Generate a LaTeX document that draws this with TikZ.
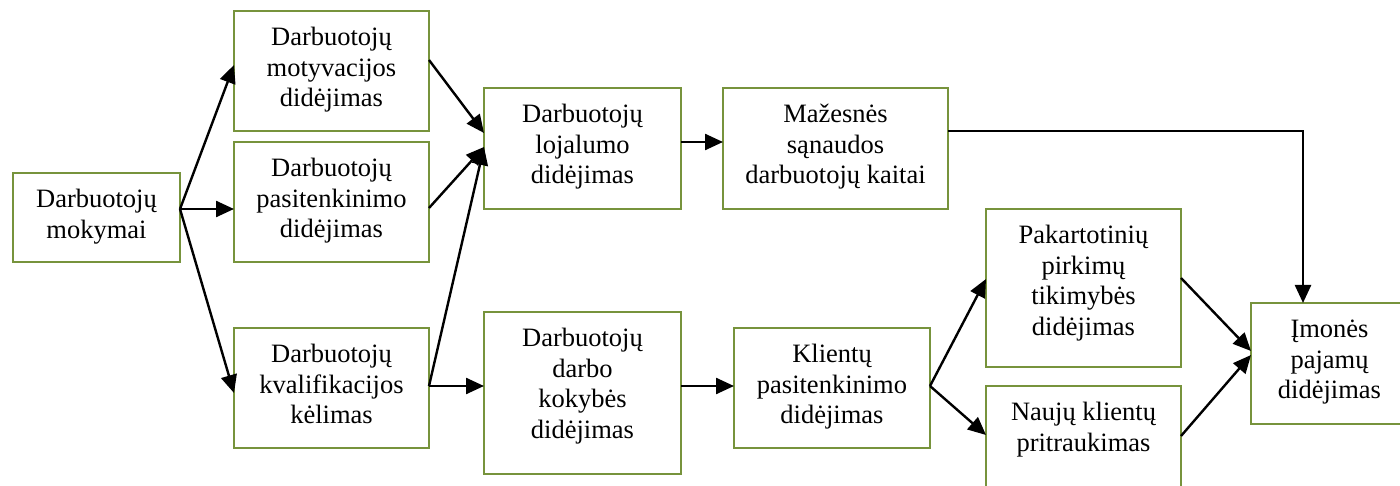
\documentclass[tikz,border=0pt]{standalone}
\usepackage{fontspec}
\setmainfont{Liberation Serif}
\usetikzlibrary{arrows.meta}
\definecolor{boxgreen}{HTML}{77933C}
\begin{document}
\begin{tikzpicture}[x=1pt,y=-1pt,
  box/.style={draw=boxgreen, line width=2pt, anchor=north west, inner sep=0pt, outer sep=0pt},
  txt/.style={anchor=north, align=center, inner sep=0pt, font=\fontsize{26.5}{30.5}\selectfont},
  arr/.style={draw=black, line width=2.4pt, -{Triangle[length=18pt,width=16pt]}}]
\fill[white] (0,0) rectangle (1400,486);
\clip (0,0) rectangle (1400,486);

% boxes
\node[box, minimum width=167pt, minimum height=89pt]  (A) at (13,173) {};
\node[box, minimum width=195pt, minimum height=120pt] (B) at (234,11) {};
\node[box, minimum width=195pt, minimum height=120pt] (C) at (234,142) {};
\node[box, minimum width=195pt, minimum height=120pt] (D) at (234,328) {};
\node[box, minimum width=197pt, minimum height=121pt] (E) at (484,88) {};
\node[box, minimum width=225pt, minimum height=121pt] (F) at (723,88) {};
\node[box, minimum width=197pt, minimum height=162pt] (G) at (484,312) {};
\node[box, minimum width=196pt, minimum height=120pt] (H) at (734,328) {};
\node[box, minimum width=195pt, minimum height=158pt] (I) at (986,209) {};
\node[box, minimum width=195pt, minimum height=124pt] (J) at (986,386) {};
\node[box, minimum width=153pt, minimum height=121pt] (K) at (1251,303) {};

% texts, top aligned inside the boxes
\node[txt] (At) at ([yshift=-13.15pt]A.north) {\strut Darbuotojų\\mokymai};
\node[txt] (Bt) at ([yshift=-13.15pt]B.north) {\strut Darbuotojų\\motyvacijos\\didėjimas};
\node[txt] (Ct) at ([yshift=-13.15pt]C.north) {\strut Darbuotojų\\pasitenkinimo\\didėjimas};
\node[txt] (Dt) at ([yshift=-13.15pt]D.north) {\strut Darbuotojų\\kvalifikacijos\\kėlimas};
\node[txt] (Et) at ([yshift=-13.15pt]E.north) {\strut Darbuotojų\\lojalumo\\didėjimas};
\node[txt] (Ft) at ([yshift=-13.15pt]F.north) {\strut Mažesnės\\sąnaudos\\darbuotojų kaitai};
\node[txt] (Gt) at ([yshift=-13.15pt]G.north) {\strut Darbuotojų\\darbo\\kokybės\\didėjimas};
\node[txt] (Ht) at ([yshift=-13.15pt]H.north) {\strut Klientų\\pasitenkinimo\\didėjimas};
\node[txt] (It) at ([yshift=-13.15pt]I.north) {\strut Pakartotinių\\pirkimų\\tikimybės\\didėjimas};
\node[txt] (Jt) at ([yshift=-13.15pt]J.north) {\strut Naujų klientų\\pritraukimas};
\node[txt] (Kt) at ([yshift=-13.15pt]K.north -| 1329.5,0) {\strut Įmonės\\pajamų\\didėjimas};

% connectors
\draw[arr] ([yshift=8.5pt]A.east) -- ([yshift=6pt]B.west);
\draw[arr] ([yshift=8.5pt]A.east) -- ([yshift=-7pt]C.west);
\draw[arr] ([yshift=8.5pt]A.east) -- ([yshift=-5pt]D.west);
\draw[arr] ([yshift=11pt]B.east) -- ([yshift=15.5pt]E.west);
\draw[arr] ([yshift=-6pt]C.east) -- ([yshift=1.5pt]E.west);
\draw[arr] ([yshift=2pt]D.east) -- ([yshift=1.5pt]E.west);
\draw[arr] ([yshift=2pt]D.east) -- ([yshift=7pt]G.west);
\draw[arr] ([yshift=6.5pt]E.east) -- ([yshift=6.5pt]F.west);
\draw[arr] ([yshift=17.5pt]F.east) -| ([xshift=-24.5pt]K.north);
\draw[arr] ([yshift=7pt]G.east) -- ([yshift=2pt]H.west);
\draw[arr] ([yshift=2pt]H.east) -- ([yshift=9pt]I.west);
\draw[arr] ([yshift=2pt]H.east) -- ([yshift=-49pt]J.north west);
\draw[arr] ([yshift=10pt]I.east) -- ([yshift=12.5pt]K.west);
\draw[arr] ([yshift=-50pt]J.north east) -- ([yshift=8.5pt]K.west);
\end{tikzpicture}
\end{document}
